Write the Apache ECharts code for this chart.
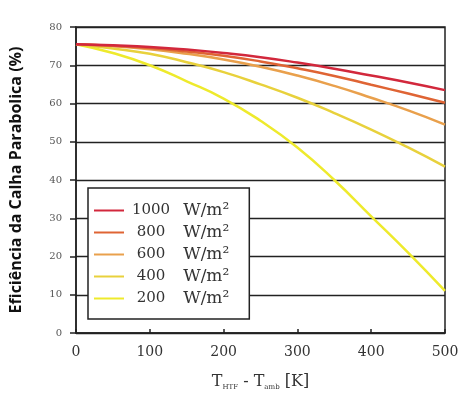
<!DOCTYPE html>
<html><head><meta charset="utf-8">
<script src="https://cdn.jsdelivr.net/npm/echarts@6/dist/echarts.min.js"></script>
<style>html,body{margin:0;padding:0;background:#fff}#c{width:463px;height:396px}</style>
</head><body><div id="c"></div>
<script>
const xs = [0, 50, 100, 150, 200, 250, 300, 350, 400, 450, 500];
const irr1000 = [75.5, 75.2, 74.8, 74.1, 73.2, 72.1, 70.7, 69.1, 67.3, 65.5, 63.5];
const irr800  = [75.5, 75.1, 74.5, 73.6, 72.5, 71.0, 69.2, 67.2, 64.9, 62.6, 60.2];
const irr600  = [75.5, 75.0, 74.2, 73.0, 71.5, 69.6, 67.3, 64.6, 61.5, 58.2, 54.5];
const irr400  = [75.5, 74.4, 73.0, 70.8, 68.2, 65.0, 61.5, 57.5, 53.2, 48.5, 43.5];
const irr200  = [75.5, 73.2, 70.0, 65.8, 61.3, 55.5, 48.5, 40.0, 30.5, 21.0, 11.0];
const seriesNames = ['1000', '800', '600', '400', '200'];
const seriesColors = ['#d2283c', '#df6434', '#e9a04c', '#e8d13c', '#eeea2c'];
const yTicks = [0, 10, 20, 30, 40, 50, 60, 70, 80];
const xTicks = [0, 100, 200, 300, 400, 500];

const allVals = [irr1000, irr800, irr600, irr400, irr200];
const serif = '"DejaVu Serif", "Liberation Serif", serif';
const chart = echarts.init(document.getElementById('c'));
chart.setOption({
  animation: false,
  backgroundColor: '#fff',
  grid: { left: 75, right: 18, top: 27, bottom: 62, show: true, borderColor: '#222', borderWidth: 1.5, backgroundColor: 'transparent' },
  xAxis: {
    type: 'value', min: 0, max: 500, interval: 100,
    axisLine: { lineStyle: { color: '#222', width: 1.5 } },
    axisTick: { inside: true, length: 4, lineStyle: { color: '#222', width: 1.5 } },
    splitLine: { show: false },
    axisLabel: { color: '#333', fontFamily: serif, fontSize: 14, margin: 12 },
    name: 'T{s|HTF} - T{s|amb} [K]',
    nameLocation: 'middle', nameGap: 40,
    nameTextStyle: {
      color: '#333', fontFamily: serif, fontSize: 16, lineHeight: 18,
      rich: { s: { fontSize: 7, fontFamily: serif, color: '#333', verticalAlign: 'bottom', lineHeight: 12, padding: [6, 0, 0, 0] } }
    }
  },
  yAxis: {
    type: 'value', min: 0, max: 80, interval: 10,
    axisLine: { show: true, lineStyle: { color: '#222', width: 1.5 } },
    axisTick: { show: true, length: 6, lineStyle: { color: '#222', width: 1.5 } },
    splitLine: { show: true, lineStyle: { color: '#222', width: 1.3 } },
    axisLabel: { color: '#555', fontFamily: serif, fontSize: 10, margin: 14 },
    name: 'Eficiência da Calha Parabolica (%)',
    nameLocation: 'middle', nameGap: 52,
    nameTextStyle: { color: '#111', fontFamily: '"Open Sans", "DejaVu Sans", sans-serif', fontWeight: 'bold', fontSize: 16 }
  },
  legend: {
    orient: 'vertical', left: 88, top: 188,
    padding: [14, 20, 12, 6], itemGap: 5, itemWidth: 30, itemHeight: 2,
    backgroundColor: '#fff', borderColor: '#222', borderWidth: 1.5,
    icon: 'rect',
    data: seriesNames,
    formatter: n => '{n|' + n + '}  {u|W/m²}',
    textStyle: {
      color: '#333', fontFamily: serif, fontSize: 16, lineHeight: 17,
      rich: {
        n: { width: 44, align: 'right', fontFamily: serif, fontSize: 15, color: '#333', lineHeight: 17 },
        u: { fontFamily: serif, fontSize: 17, color: '#333', lineHeight: 17 }
      }
    }
  },
  series: seriesNames.map((n, i) => ({
    name: n, type: 'line', smooth: true, showSymbol: false,
    lineStyle: { width: 2.5, color: seriesColors[i] },
    itemStyle: { color: seriesColors[i] },
    data: xs.map((x, j) => [x, allVals[i][j]]),
    z: 10 - i
  }))
});
</script></body></html>
